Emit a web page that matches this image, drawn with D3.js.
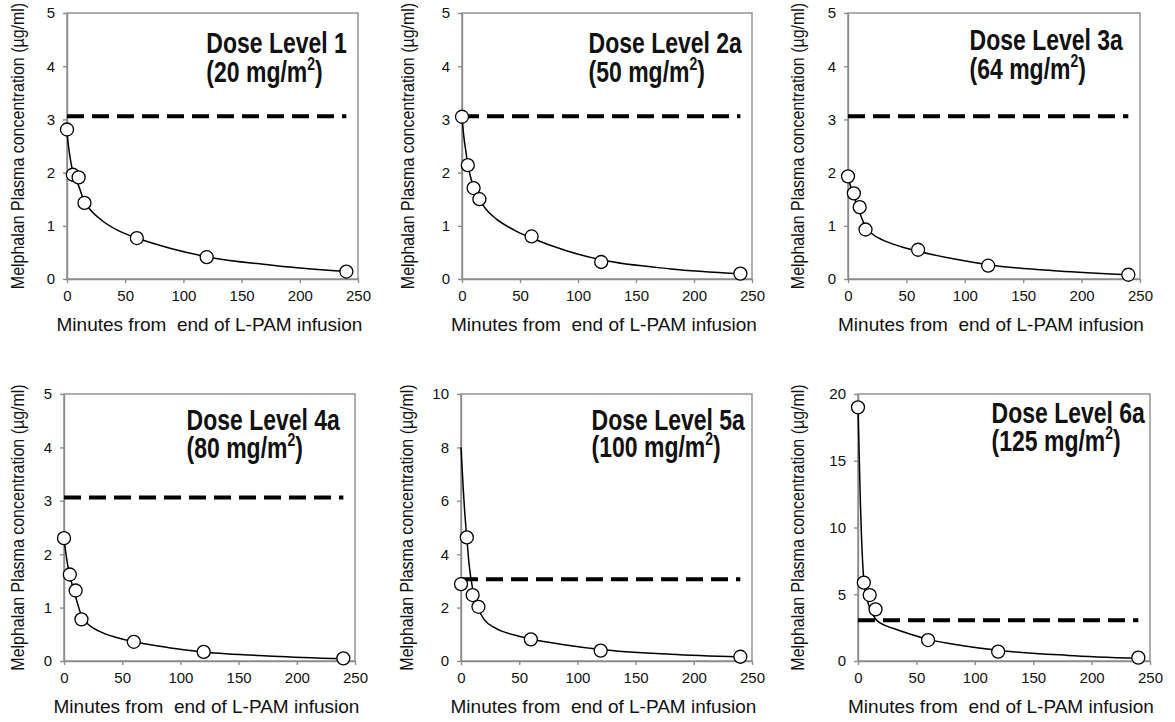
<!DOCTYPE html>
<html>
<head>
    <meta charset="utf-8">
    <title>Melphalan plasma concentration by dose level</title>
    <script src="https://cdnjs.cloudflare.com/ajax/libs/d3/7.8.5/d3.min.js"></script>
    <style>
        body { margin: 0; background: #fff; }
        text { font-family: "Liberation Sans", Arial, sans-serif; fill: #111; }
        .axis path, .axis line { stroke: #8c8c8c; stroke-width: 1.4; }
        .axis text { font-size: 15px; fill: #111; }
    </style>
</head>
<body>
<div id="chart"></div>

<script type="text/javascript">
    var width = 1175,
        height = 722;

    // sampling times (min) and measured concentrations (ug/ml)
    var times = [0, 5, 10, 15, 60, 120, 240];
    var conc1 = [2.81, 1.96, 1.91, 1.43, 0.77, 0.41, 0.14];
    var conc2 = [3.05, 2.14, 1.71, 1.50, 0.80, 0.32, 0.10];
    var conc3 = [1.93, 1.61, 1.35, 0.93, 0.55, 0.25, 0.08];
    var conc4 = [2.30, 1.62, 1.32, 0.78, 0.36, 0.17, 0.05];
    var conc5 = [2.88, 4.63, 2.47, 2.03, 0.81, 0.39, 0.16];
    var conc6 = [19.0, 5.87, 4.94, 3.87, 1.57, 0.70, 0.25];

    // fitted curve
    var fitTimes = [0, 1, 2, 3, 5, 7, 10, 15, 20, 30, 45, 60, 90, 120, 180, 240];
    var fit1 = [2.75, 2.55, 2.38, 2.24, 2.02, 1.90, 1.75, 1.45, 1.30, 1.10, 0.90, 0.77, 0.57, 0.42, 0.25, 0.14];
    var fit2 = [3.05, 2.80, 2.60, 2.45, 2.15, 1.95, 1.73, 1.50, 1.33, 1.12, 0.92, 0.77, 0.53, 0.36, 0.19, 0.10];
    var fit3 = [1.92, 1.84, 1.76, 1.69, 1.55, 1.43, 1.25, 0.98, 0.86, 0.73, 0.61, 0.52, 0.38, 0.27, 0.15, 0.08];
    var fit4 = [2.30, 2.12, 1.96, 1.82, 1.60, 1.43, 1.20, 0.85, 0.70, 0.56, 0.44, 0.36, 0.25, 0.17, 0.09, 0.04];
    var fit5 = [8.0, 7.2, 6.4, 5.7, 4.6, 3.6, 2.7, 1.95, 1.55, 1.22, 0.98, 0.82, 0.60, 0.43, 0.25, 0.15];
    var fit6 = [19.0, 15.5, 12.0, 9.3, 6.0, 4.9, 4.0, 3.15, 2.8, 2.45, 2.0, 1.62, 1.15, 0.80, 0.42, 0.20];

    var doseNames = ["Dose Level 1", "Dose Level 2a", "Dose Level 3a", "Dose Level 4a", "Dose Level 5a", "Dose Level 6a"];
    var doseAmounts = [20, 50, 64, 80, 100, 125];
    var yMax = [5, 5, 5, 5, 10, 20];
    var yStep = [1, 1, 1, 1, 2, 5];
    var xTicks = [0, 50, 100, 150, 200, 250];
    var threshold = 3.06,
        thresholdEnd = 240;

    var concs = [conc1, conc2, conc3, conc4, conc5, conc6];
    var fits = [fit1, fit2, fit3, fit4, fit5, fit6];

    //layout of each panel: plot box, title right edge / baselines, y title offset
    var layout = [
        {x0: 67,  x1: 358,  y0: 13,  y1: 279, tr: 280, ty: 40, ty2: 69, yl: -49},
        {x0: 462, x1: 752,  y0: 13,  y1: 279, tr: 280, ty: 40, ty2: 69, yl: -54},
        {x0: 848, x1: 1140, y0: 13,  y1: 279, tr: 275, ty: 37, ty2: 66, yl: -50},
        {x0: 64,  x1: 355,  y0: 394, y1: 661, tr: 276, ty: 36, ty2: 64, yl: -46},
        {x0: 461, x1: 752,  y0: 394, y1: 661, tr: 284, ty: 36, ty2: 63, yl: -54},
        {x0: 858, x1: 1150, y0: 394, y1: 661, tr: 287, ty: 29, ty2: 57, yl: -60}
    ];

    var svg = d3.select("#chart").append("svg")
        .attr("width", width)
        .attr("height", height);

    var stretch = 1.25;   //title glyphs in the original are taller than wide

    ////////////////////////////////////////////////////////////
    ///////////////////// Draw each panel //////////////////////
    ////////////////////////////////////////////////////////////

    layout.forEach(function(L, i) {
        var w = L.x1 - L.x0,
            h = L.y1 - L.y0;

        var g = svg.append("g")
            .attr("transform", "translate(" + L.x0 + "," + L.y0 + ")");

        var x = d3.scaleLinear().domain([0, 250]).range([0, w]);
        var y = d3.scaleLinear().domain([0, yMax[i]]).range([h, 0]);

        var yTicks = d3.range(0, yMax[i] + 0.001, yStep[i]);

        // frame (top and right sides)
        g.append("rect")
            .attr("width", w)
            .attr("height", h)
            .attr("fill", "none")
            .attr("stroke", "#8c8c8c")
            .attr("stroke-width", 1.4);

        g.append("g")
            .attr("class", "axis")
            .attr("transform", "translate(0," + h + ")")
            .call(d3.axisBottom(x).tickValues(xTicks).tickSize(4).tickSizeOuter(0).tickPadding(7));

        g.append("g")
            .attr("class", "axis")
            .call(d3.axisLeft(y).tickValues(yTicks).tickFormat(d3.format("d"))
                .tickSize(4).tickSizeOuter(0).tickPadding(8));

        // threshold line
        g.append("line")
            .attr("x1", x(0))
            .attr("x2", x(thresholdEnd))
            .attr("y1", y(threshold))
            .attr("y2", y(threshold))
            .attr("stroke", "#000")
            .attr("stroke-width", 4)
            .attr("stroke-dasharray", "17,8");

        // fitted curve
        var line = d3.line()
            .x(function(d) { return x(d[0]); })
            .y(function(d) { return y(d[1]); })
            .curve(d3.curveMonotoneX);

        g.append("path")
            .datum(d3.zip(fitTimes, fits[i]))
            .attr("d", line)
            .attr("fill", "none")
            .attr("stroke", "#000")
            .attr("stroke-width", 1.5);

        // observed points
        g.selectAll(".pt")
            .data(d3.zip(times, concs[i]))
            .enter().append("circle")
            .attr("class", "pt")
            .attr("cx", function(d) { return x(d[0]); })
            .attr("cy", function(d) { return y(d[1]); })
            .attr("r", 6.5)
            .attr("fill", "#fff")
            .attr("stroke", "#000")
            .attr("stroke-width", 1.3);

        // panel title, two lines left aligned, first line ends at tr
        var title = g.append("text")
            .style("font-size", "23px")
            .style("font-weight", "bold");
        var first = title.append("tspan").attr("x", 0).attr("y", 0).text(doseNames[i]);
        title.append("tspan").attr("x", 0).attr("y", (L.ty2 - L.ty) / stretch)
            .text("(" + doseAmounts[i] + " mg/m");
        title.append("tspan").attr("dy", -9.5).style("font-size", "14px").text("2");
        title.append("tspan").attr("dy", 9.5).text(")");
        var len = first.node().getComputedTextLength();
        title.attr("transform", "translate(" + (L.tr - len) + "," + L.ty + ") scale(1," + stretch + ")");

        // axis titles
        g.append("text")
            .attr("x", w / 2 - 3)
            .attr("y", h + 52)
            .attr("text-anchor", "middle")
            .style("font-size", "19px")
            .style("white-space", "pre")
            .text("Minutes from  end of L-PAM infusion");

        g.append("text")
            .attr("transform", "translate(" + L.yl + "," + (h / 2) + ") rotate(-90) scale(1,1.12)")
            .attr("text-anchor", "middle")
            .attr("dy", "0.35em")
            .style("font-size", "16px")
            .text("Melphalan Plasma concentration (\u00b5g/ml)");
    });

</script>
</body>
</html>
